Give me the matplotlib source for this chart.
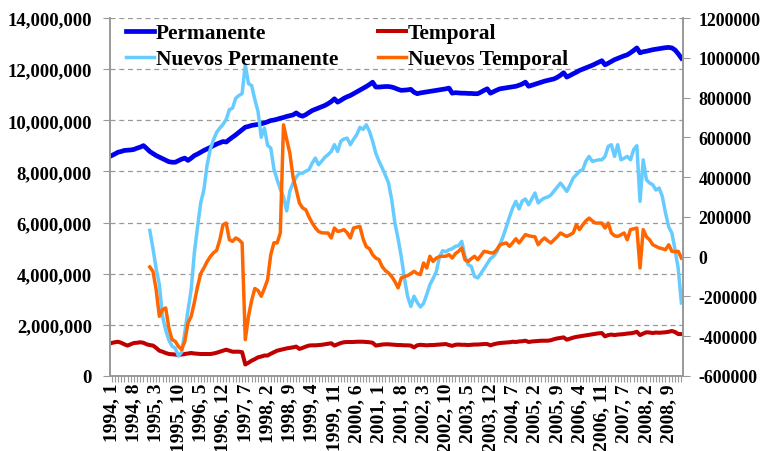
# -*- coding: utf-8 -*-
# permanent vs temporary employment chart, monthly 1994-2009

import numpy as np
import matplotlib
matplotlib.use('Agg')
import matplotlib.pyplot as plt
from matplotlib.ticker import FuncFormatter, MultipleLocator

# months 1994,1 ... 2009,1 (the source series skips one month in 2007)
years = list(range(1994, 2010))
months = [f"{y}, {m}" for y in years for m in range(1, 13)
          if not (y == 2007 and m == 3)][:180]

# stock of permanent contracts (millions, left axis)
permanente = [
    8.62, 8.68, 8.75, 8.78, 8.82, 8.83, 8.84, 8.86, 8.91, 8.95, 9.01, 8.90,
    8.78, 8.70, 8.62, 8.56, 8.50, 8.44, 8.38, 8.36, 8.36, 8.42, 8.48, 8.52,
    8.43, 8.52, 8.62, 8.68, 8.75, 8.82, 8.88, 8.94, 9.01, 9.07, 9.12, 9.17,
    9.15, 9.25, 9.34, 9.43, 9.53, 9.63, 9.73, 9.76, 9.80, 9.82, 9.84, 9.86,
    9.90, 9.94, 9.99, 10.01, 10.04, 10.08, 10.11, 10.15, 10.18, 10.21, 10.29, 10.20,
    10.16, 10.22, 10.30, 10.38, 10.43, 10.48, 10.53, 10.58, 10.65, 10.73, 10.84, 10.71,
    10.78, 10.86, 10.92, 10.97, 11.04, 11.11, 11.18, 11.25, 11.32, 11.40, 11.49, 11.30,
    11.30, 11.31, 11.32, 11.32, 11.30, 11.26, 11.21, 11.17, 11.18, 11.19, 11.21, 11.10,
    11.04, 11.07, 11.09, 11.11, 11.13, 11.15, 11.17, 11.19, 11.21, 11.23, 11.26, 11.06,
    11.08, 11.07, 11.06, 11.06, 11.05, 11.05, 11.04, 11.04, 11.10, 11.17, 11.23, 11.06,
    11.12, 11.18, 11.23, 11.25, 11.27, 11.29, 11.31, 11.33, 11.37, 11.42, 11.49, 11.33,
    11.37, 11.41, 11.45, 11.49, 11.53, 11.56, 11.59, 11.62, 11.68, 11.76, 11.86, 11.69,
    11.75, 11.82, 11.88, 11.95, 12.00, 12.05, 12.10, 12.15, 12.21, 12.27, 12.33, 12.17,
    12.23, 12.30, 12.37, 12.42, 12.47, 12.52, 12.56, 12.64, 12.73, 12.83, 12.64, 12.68,
    12.70, 12.73, 12.76, 12.78, 12.80, 12.82, 12.84, 12.85, 12.83, 12.75, 12.60, 12.43,
]

# stock of temporary contracts (millions, left axis)
temporal = [
    1.29, 1.32, 1.34, 1.30, 1.24, 1.19, 1.24, 1.29, 1.30, 1.32, 1.30, 1.24,
    1.21, 1.19, 1.10, 0.99, 0.95, 0.90, 0.86, 0.85, 0.84, 0.82, 0.84, 0.86,
    0.88, 0.90, 0.88, 0.87, 0.86, 0.86, 0.86, 0.86, 0.88, 0.91, 0.95, 0.99,
    1.03, 0.99, 0.95, 0.95, 0.95, 0.93, 0.45, 0.52, 0.60, 0.66, 0.73, 0.76,
    0.80, 0.80, 0.87, 0.93, 0.99, 1.02, 1.05, 1.08, 1.10, 1.12, 1.15, 1.06,
    1.10, 1.15, 1.19, 1.20, 1.20, 1.21, 1.22, 1.24, 1.26, 1.28, 1.19, 1.24,
    1.29, 1.32, 1.33, 1.33, 1.33, 1.34, 1.34, 1.34, 1.33, 1.32, 1.30, 1.19,
    1.21, 1.23, 1.24, 1.24, 1.23, 1.22, 1.21, 1.21, 1.20, 1.20, 1.19, 1.12,
    1.20, 1.22, 1.21, 1.20, 1.21, 1.21, 1.22, 1.23, 1.24, 1.25, 1.21, 1.18,
    1.22, 1.23, 1.22, 1.22, 1.21, 1.22, 1.23, 1.23, 1.24, 1.25, 1.25, 1.20,
    1.24, 1.27, 1.29, 1.30, 1.31, 1.32, 1.34, 1.33, 1.35, 1.36, 1.38, 1.33,
    1.35, 1.36, 1.37, 1.38, 1.38, 1.38, 1.40, 1.44, 1.47, 1.49, 1.51, 1.42,
    1.46, 1.50, 1.53, 1.55, 1.57, 1.59, 1.61, 1.63, 1.65, 1.67, 1.68, 1.55,
    1.60, 1.62, 1.60, 1.62, 1.63, 1.64, 1.66, 1.67, 1.69, 1.73, 1.60, 1.66,
    1.71, 1.70, 1.68, 1.70, 1.69, 1.70, 1.71, 1.73, 1.76, 1.72, 1.64, 1.64,
]

# new permanent contracts (thousands, right axis), starts 1995,1
nuevos_perm = [
    132, 40, -60, -140, -300, -370, -420, -450, -460, -500, -480, -380,
    -270, -166, 20, 150, 270, 337, 460, 540, 588, 625, 647, 665,
    690, 739, 747, 797, 810, 820, 965, 870, 860, 790, 730, 600,
    647, 560, 546, 440, 387, 340, 300, 230, 330, 370, 400, 420,
    420, 430, 437, 470, 496, 462, 480, 500, 513, 529, 563, 529,
    580, 592, 596, 563, 590, 613, 650, 640, 663, 630, 580, 520,
    480, 446, 410, 370, 286, 169, 90, 0, -110, -200, -250, -199,
    -230, -253, -235, -190, -141, -110, -75, 0, 30, 25, 35, 40,
    52, 55, 77, 2, -40, -49, -99, -107, -85, -60, -35, -10,
    2, 25, 60, 102, 150, 200, 245, 278, 240, 280, 290, 261,
    290, 320, 270, 285, 295, 300, 310, 330, 350, 370, 350, 328,
    360, 395, 412, 430, 437, 480, 504, 479, 483, 487, 487, 504,
    554, 563, 504, 563, 487, 495, 504, 487, 538, 558, 278, 487,
    387, 370, 362, 335, 345, 303, 220, 150, 119, 35, -60, -233,
]

# new temporary contracts (thousands, right axis), starts 1995,1
nuevos_temp = [
    -52, -74, -166, -300, -266, -258, -360, -417, -426, -451, -467, -426,
    -333, -300, -230, -150, -85, -57, -25, 0, 19, 32, 85, 161,
    169, 85, 77, 94, 85, 69, -417, -300, -220, -160, -170, -199,
    -160, -116, 10, 70, 69, 119, 663, 590, 520, 400, 337, 270,
    245, 236, 200, 170, 145, 127, 120, 119, 119, 94, 144, 127,
    130, 136, 120, 94, 144, 148, 152, 90, 50, 40, 10, -7,
    -15, -50, -70, -82, -100, -125, -157, -107, -100, -95, -85, -74,
    -85, -90, -32, -57, 2, -24, -7, 0, 2, 2, 10, -7,
    15, 27, 44, -15, -24, -10, 2, -15, 5, 27, 24, 19,
    19, 35, 60, 65, 69, 52, 70, 90, 69, 90, 111, 105,
    102, 100, 60, 80, 94, 80, 69, 85, 100, 119, 110, 102,
    110, 119, 161, 136, 160, 180, 194, 180, 169, 169, 169, 144,
    169, 119, 105, 102, 110, 119, 85, 136, 140, 144, -57, 136,
    100, 85, 60, 52, 44, 40, 35, 60, 27, 25, 27, -7,
]

n = len(months)
x = np.arange(n)
start = n - len(nuevos_perm)

plt.rcParams['font.family'] = ['Liberation Serif', 'DejaVu Serif']
plt.rcParams['font.weight'] = 'bold'

fig = plt.figure(figsize=(7.63, 4.52), dpi=100)
ax = fig.add_axes([110 / 763, 75 / 452, 573 / 763, 358 / 452])
ax2 = ax.twinx()

l1, = ax.plot(x, np.array(permanente) * 1e6, color='#0000ee', lw=3.4, label='Permanente')
l2, = ax.plot(x, np.array(temporal) * 1e6, color='#c00000', lw=2.9, label='Temporal')
l3, = ax2.plot(x[start:], np.array(nuevos_perm) * 1000, color='#66ccff', lw=2.5,
               label='Nuevos Permanente')
l4, = ax2.plot(x[start:], np.array(nuevos_temp) * 1000, color='#ff6600', lw=2.5,
               label='Nuevos Temporal')

ax.set_xlim(-0.5, n - 0.5)
ax.set_ylim(0, 14e6)
ax2.set_ylim(-600000, 1200000)
ax.yaxis.set_major_locator(MultipleLocator(2e6))
ax2.yaxis.set_major_locator(MultipleLocator(200000))
ax.yaxis.set_major_formatter(FuncFormatter(lambda v, p: f"{int(v):,}"))
ax2.yaxis.set_major_formatter(FuncFormatter(lambda v, p: f"{int(v)}"))

ax.grid(axis='y', color='#999999', linestyle=(0, (4, 3)), linewidth=0.9)
ax.set_axisbelow(True)

# every month gets a tick, only every 7th gets a label
ax.set_xticks(x)
ax.set_xticklabels([m if i % 7 == 0 else '' for i, m in enumerate(months)],
                   rotation=90, fontsize=14, fontweight='bold')
ax.tick_params(axis='x', length=4, color='#999999', pad=1)
ax.tick_params(axis='y', length=5, color='#999999', pad=8, labelsize=13.5)
ax2.tick_params(axis='y', length=5, color='#999999', pad=6, labelsize=12.8)
for lab in ax.get_yticklabels() + ax2.get_yticklabels():
    lab.set_fontweight('bold')

for a in (ax, ax2):
    a.spines['top'].set_visible(False)
    for s in ('left', 'right', 'bottom'):
        a.spines[s].set_color('#999999')
        a.spines[s].set_linewidth(1.2)

leg = ax2.legend(handles=[l1, l3, l2, l4], ncol=2, frameon=False,
                 loc='upper left', bbox_to_anchor=(126 / 763, 1 - 24 / 452),
                 bbox_transform=fig.transFigure, borderaxespad=0, borderpad=0,
                 prop={'family': 'Liberation Serif', 'weight': 'bold', 'size': 15.4},
                 handlelength=1.3, handletextpad=0.1, columnspacing=1.85,
                 labelspacing=0.3)

fig.savefig('out.png', dpi=100)
